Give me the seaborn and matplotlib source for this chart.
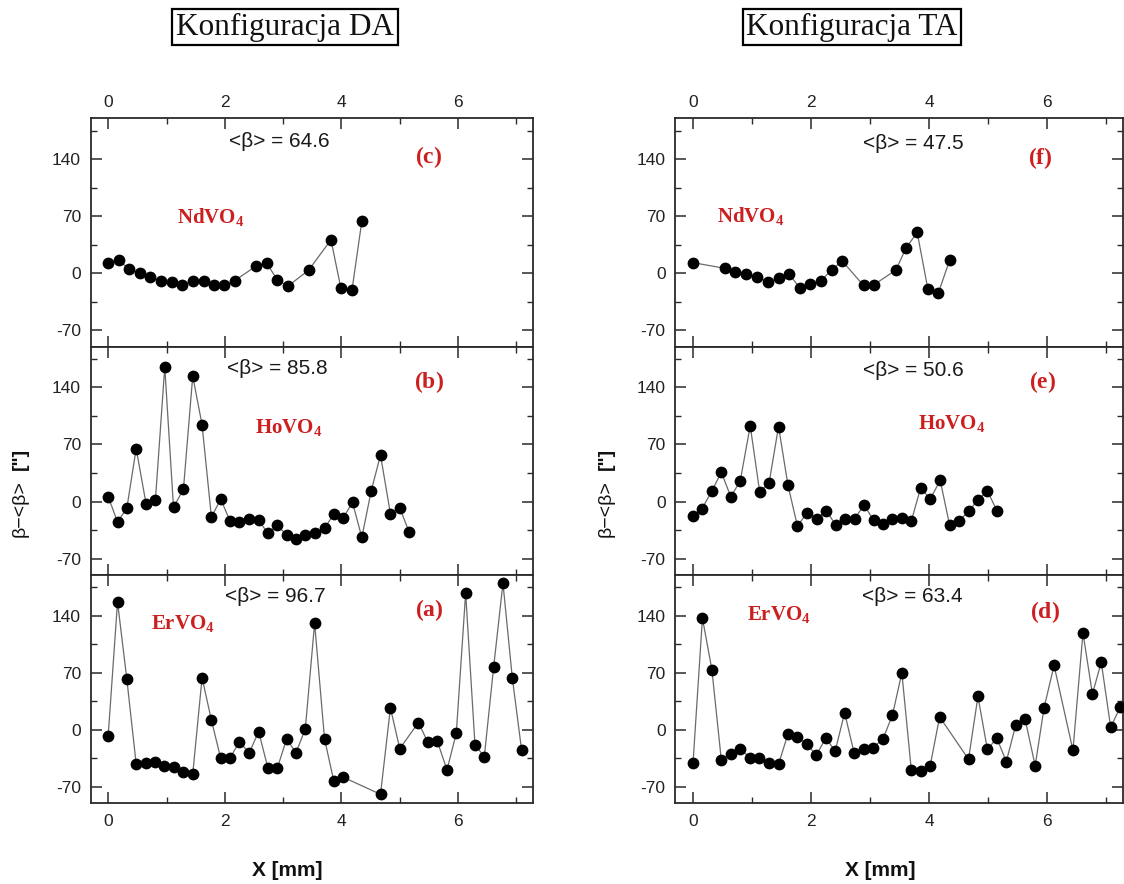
import numpy as np
import pandas as pd
import matplotlib
matplotlib.use("Agg")
import matplotlib.pyplot as plt
import seaborn as sns

# ---------------- data ----------------
# Konfiguracja DA
x_c = [0.00, 0.18, 0.36, 0.54, 0.72, 0.90, 1.09, 1.27, 1.45, 1.64, 1.81, 1.99, 2.17,
       2.54, 2.72, 2.90, 3.08, 3.44, 3.82, 3.99, 4.18, 4.35]
y_c = [12, 16, 5, 0, -5, -9, -11, -14, -10, -10, -15, -15, -9,
       9, 12, -8, -16, 4, 41, -18, -21, 64]

x_b = [0.00, 0.16, 0.32, 0.48, 0.65, 0.81, 0.97, 1.12, 1.29, 1.45, 1.61, 1.77, 1.93,
       2.09, 2.25, 2.41, 2.58, 2.74, 2.90, 3.06, 3.22, 3.38, 3.54, 3.71, 3.87, 4.03,
       4.19, 4.35, 4.51, 4.67, 4.84, 5.00, 5.16]
y_b = [6, -25, -8, 65, -3, 2, 165, -7, 15, 154, 94, -19, 3,
       -24, -25, -21, -23, -39, -29, -41, -46, -41, -39, -33, -15, -20,
       -1, -44, 13, 57, -15, -8, -37]

x_a = [0.00, 0.16, 0.32, 0.48, 0.64, 0.81, 0.96, 1.12, 1.29, 1.45, 1.61, 1.77, 1.93,
       2.09, 2.25, 2.42, 2.58, 2.74, 2.90, 3.06, 3.22, 3.38, 3.54, 3.71, 3.87, 4.03,
       4.67, 4.84, 5.00, 5.32, 5.48, 5.64, 5.81, 5.97, 6.13, 6.29, 6.45, 6.61, 6.77,
       6.93, 7.09]
y_a = [-7, 157, 62, -42, -41, -39, -44, -45, -52, -54, 64, 12, -35,
       -34, -15, -28, -2, -47, -47, -11, -28, 1, 131, -11, -63, -58,
       -79, 27, -23, 9, -15, -13, -49, -4, 168, -18, -33, 77, 180,
       64, -25]

# Konfiguracja TA
x_f = [0.00, 0.54, 0.72, 0.90, 1.08, 1.27, 1.45, 1.63, 1.81, 1.99, 2.17, 2.35, 2.53,
       2.89, 3.07, 3.44, 3.61, 3.80, 3.98, 4.16, 4.35]
y_f = [13, 6, 1, -1, -4, -11, -6, -1, -18, -13, -9, 4, 15,
       -15, -14, 4, 31, 50, -19, -24, 16]

x_e = [0.00, 0.15, 0.32, 0.48, 0.64, 0.80, 0.97, 1.13, 1.29, 1.45, 1.61, 1.77, 1.93,
       2.10, 2.26, 2.42, 2.58, 2.74, 2.90, 3.06, 3.22, 3.38, 3.54, 3.70, 3.86, 4.02,
       4.19, 4.35, 4.51, 4.67, 4.83, 4.99, 5.15]
y_e = [-18, -9, 13, 36, 6, 25, 93, 12, 23, 92, 20, -30, -14,
       -21, -11, -29, -21, -21, -4, -23, -27, -21, -20, -24, 17, 3,
       26, -29, -24, -12, 2, 13, -11]

x_d = [0.00, 0.16, 0.32, 0.48, 0.64, 0.80, 0.96, 1.12, 1.28, 1.45, 1.61, 1.77, 1.93,
       2.09, 2.25, 2.41, 2.57, 2.73, 2.89, 3.05, 3.22, 3.38, 3.54, 3.70, 3.86, 4.02,
       4.18, 4.67, 4.83, 4.99, 5.15, 5.31, 5.47, 5.63, 5.80, 5.95, 6.12, 6.44, 6.61,
       6.77, 6.92, 7.08, 7.24]
y_d = [-41, 137, 74, -37, -29, -23, -34, -35, -40, -42, -5, -9, -17,
       -31, -10, -26, 21, -28, -24, -22, -11, 18, 70, -49, -51, -44,
       16, -36, 41, -24, -10, -39, 6, 13, -44, 27, 79, -25, 119,
       44, 83, 3, 28]

mean_labels = ["<β> = 64.6", "<β> = 85.8", "<β> = 96.7",
               "<β> = 47.5", "<β> = 50.6", "<β> = 63.4"]
panel_labels = ["(c)", "(b)", "(a)", "(f)", "(e)", "(d)"]
compounds = ["NdVO", "HoVO", "ErVO", "NdVO", "HoVO", "ErVO"]
titles = ["Konfiguracja DA", "Konfiguracja TA"]
xticks_major = [0, 2, 4, 6]
xticks_minor = [1, 3, 5, 7]
yticks_major = [-70, 0, 70, 140]
yticks_minor = [-35, 35, 105, 175]

# ---------------- style ----------------
sns.set_theme(style="ticks")
plt.rcParams["font.family"] = ["Liberation Sans", "DejaVu Sans"]
plt.rcParams["mathtext.fontset"] = "custom"
plt.rcParams["mathtext.rm"] = "Liberation Serif"
plt.rcParams["mathtext.bf"] = "Liberation Serif:bold"

RED = "#cc1f1f"
SPINE = "#2a2a2a"

fig = plt.figure(figsize=(11.24, 8.84), dpi=100)
W, H = 1124.0, 884.0
top_px, bot_px = 118.3, 803.3
ph = (bot_px - top_px) / 3.0
cols = [(90.7, 532.7), (675.3, 1122.5)]

datasets = [(x_c, y_c), (x_b, y_b), (x_a, y_a), (x_f, y_f), (x_e, y_e), (x_d, y_d)]
mean_pos = [(2.94, 161), (2.90, 163), (2.87, 163), (3.73, 159), (3.73, 161), (3.71, 163)]
plab_pos = [(5.49, 143), (5.50, 147), (5.50, 147), (5.89, 141), (5.93, 147), (5.97, 145)]
comp_pos = [(1.76, 69), (3.10, 91), (1.28, 131), (0.97, 70), (4.38, 96), (1.45, 141)]

for i, (xs, ys) in enumerate(datasets):
    col = i // 3
    row = i % 3
    l_px, r_px = cols[col]
    top_i = top_px + row * ph
    ax = fig.add_axes([l_px / W, 1 - (top_i + ph) / H, (r_px - l_px) / W, ph / H])
    df = pd.DataFrame({"x": xs, "y": ys})
    sns.lineplot(data=df, x="x", y="y", ax=ax, color="#6a6a6a", linewidth=0.9,
                 sort=False, estimator=None)
    sns.scatterplot(data=df, x="x", y="y", ax=ax, color="black", s=72,
                    linewidth=0, zorder=3)
    ax.set_xlim(-0.3, 7.28)
    ax.set_ylim(-90, 190)
    ax.set_xticks(xticks_major)
    ax.set_xticks(xticks_minor, minor=True)
    ax.set_yticks(yticks_major)
    ax.set_yticks(yticks_minor, minor=True)
    ax.set_xticklabels([str(v) for v in xticks_major])
    ax.set_yticklabels([str(v) for v in yticks_major])
    ax.set_xlabel("")
    ax.set_ylabel("")
    ax.tick_params(which="both", direction="in", top=True, right=True,
                   color=SPINE, labelsize=12.5, labelcolor="#222222")
    ax.tick_params(which="major", length=8, width=1.1)
    ax.tick_params(which="minor", length=4, width=1.0)
    ax.tick_params(axis="y", pad=7)
    if row == 0:
        ax.tick_params(axis="x", labeltop=True, labelbottom=False, pad=6)
    elif row == 1:
        ax.tick_params(axis="x", labeltop=False, labelbottom=False)
    else:
        ax.tick_params(axis="x", labeltop=False, labelbottom=True, pad=8)
    for s in ax.spines.values():
        s.set_color(SPINE)
        s.set_linewidth(1.3)
    ax.text(*mean_pos[i], mean_labels[i], ha="center", va="center",
            fontsize=15, color="#1a1a1a")
    ax.text(*plab_pos[i], r"$\mathbf{" + panel_labels[i] + "}$", ha="center",
            va="center", fontsize=17, color=RED)
    ax.text(*comp_pos[i], r"$\mathbf{" + compounds[i] + r"_4}$", ha="center",
            va="center", fontsize=15, color=RED)

# titles with boxes
for cx, t in zip([285, 852], titles):
    fig.text(cx / W, 1 - 27 / H, t, family="Liberation Serif", fontsize=22.5,
             ha="center", va="center", color="#111111",
             bbox=dict(boxstyle="square,pad=0.12", fc="white", ec="black", lw=1.6))

# y labels
for xl in [20, 606]:
    fig.text(xl / W, 1 - 537 / H, "β−<β>", rotation=90, ha="center", va="bottom",
             fontsize=14, color="#111111")
    fig.text(xl / W, 1 - 470 / H, '["]', rotation=90, ha="center", va="bottom",
             fontsize=14, fontweight="bold", color="#111111")

# x labels
for xl in [287, 880]:
    fig.text(xl / W, 1 - 870 / H, "X [mm]", ha="center", va="center",
             fontsize=15, fontweight="bold", color="#111111")

fig.savefig("out.png", dpi=100)
